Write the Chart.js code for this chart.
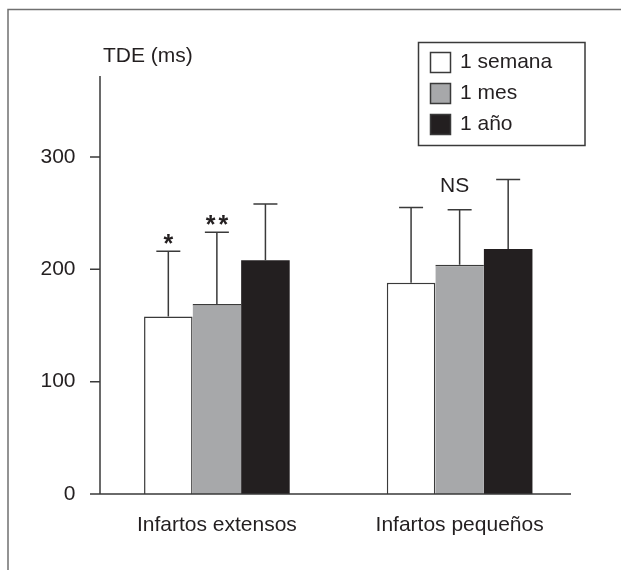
<!DOCTYPE html>
<html lang="es">
<head>
<meta charset="utf-8">
<title>TDE (ms)</title>
<script src="https://cdn.jsdelivr.net/npm/chart.js@4/dist/chart.umd.min.js"></script>
<style>
  html, body { margin: 0; padding: 0; background: #fff; }
  canvas { display: block; }
</style>
</head>
<body>
<canvas id="grafico" width="621" height="570"></canvas>
<script>
// datos
const categorias = ["Infartos extensos", "Infartos pequeños"];
const series = ["1 semana", "1 mes", "1 año"];
const mediaSemana = [158, 188];
const mediaMes = [169, 204];
const mediaAno = [208, 218];
const desvioSemana = [58, 67];
const desvioMes = [64, 49];
const desvioAno = [50, 62];
const marcasSemana = ["*", ""];
const marcasMes = ["**", "NS"];
const marcasAno = ["", ""];
const ticksY = [0, 100, 200, 300];

const FUENTE = '"Liberation Sans", Arial, sans-serif';
const TEXTO = "#231f20";
const LINEA = "#3a3a3a";

const desvios = [desvioSemana, desvioMes, desvioAno];
const marcas = [marcasSemana, marcasMes, marcasAno];

const marco = {
    id: "marco",
    beforeDraw(chart) {
        const ctx = chart.ctx;
        ctx.save();
        ctx.strokeStyle = "#707070";
        ctx.lineWidth = 1.5;
        ctx.beginPath();
        ctx.moveTo(8, chart.height);
        ctx.lineTo(8, 9.5);
        ctx.lineTo(chart.width, 9.5);
        ctx.stroke();
        ctx.restore();
    }
};

const ejes = {
    id: "ejes",
    afterDatasetsDraw(chart) {
        const ctx = chart.ctx;
        const area = chart.chartArea;
        const y = chart.scales.y;
        const x0 = area.left + 4.5;
        ctx.save();
        ctx.strokeStyle = LINEA;
        ctx.lineWidth = 1.5;
        ctx.beginPath();
        ctx.moveTo(x0, area.top);
        ctx.lineTo(x0, area.bottom);
        ctx.lineTo(area.right - 10, area.bottom);
        ticksY.forEach(v => {
            const py = y.getPixelForValue(v);
            ctx.moveTo(x0 - 10, py);
            ctx.lineTo(x0, py);
        });
        ctx.stroke();

        ctx.fillStyle = TEXTO;
        ctx.font = "21px " + FUENTE;
        ctx.textAlign = "left";
        ctx.textBaseline = "alphabetic";
        ctx.fillText("TDE (ms)", x0 + 3, 62);
        ctx.restore();
    }
};

const barrasError = {
    id: "barrasError",
    afterDatasetsDraw(chart) {
        const ctx = chart.ctx;
        const y = chart.scales.y;
        ctx.save();
        ctx.strokeStyle = LINEA;
        ctx.lineWidth = 1.5;
        ctx.fillStyle = TEXTO;
        ctx.textAlign = "center";
        ctx.textBaseline = "alphabetic";
        chart.data.datasets.forEach((ds, i) => {
            const meta = chart.getDatasetMeta(i);
            meta.data.forEach((barra, j) => {
                const topo = y.getPixelForValue(ds.data[j] + desvios[i][j]);
                ctx.beginPath();
                ctx.moveTo(barra.x, barra.y);
                ctx.lineTo(barra.x, topo);
                ctx.moveTo(barra.x - 12, topo);
                ctx.lineTo(barra.x + 12, topo);
                ctx.stroke();

                const m = marcas[i][j];
                if (m === "NS") {
                    ctx.font = "21px " + FUENTE;
                    ctx.letterSpacing = "0px";
                    ctx.fillText(m, barra.x - 5, topo - 18);
                } else if (m) {
                    ctx.font = "bold 25px " + FUENTE;
                    ctx.letterSpacing = "3px";
                    ctx.fillText(m, barra.x + 1.5, topo + 1);
                }
            });
        });
        ctx.restore();
    }
};

const leyenda = {
    id: "leyenda",
    afterDraw(chart) {
        const ctx = chart.ctx;
        ctx.save();
        ctx.strokeStyle = LINEA;
        ctx.lineWidth = 1.5;
        ctx.strokeRect(418.5, 42.5, 166.5, 103);
        ctx.font = "21px " + FUENTE;
        ctx.textBaseline = "middle";
        ctx.textAlign = "left";
        chart.data.datasets.forEach((ds, i) => {
            const top = 52 + i * 31;
            ctx.fillStyle = ds.backgroundColor;
            ctx.fillRect(430, top, 21, 21);
            ctx.strokeRect(430.5, top + 0.5, 20, 20);
            ctx.fillStyle = TEXTO;
            ctx.fillText(ds.label, 460, top + 10.5);
        });
        ctx.restore();
    }
};

const ctx = document.getElementById("grafico").getContext("2d");

new Chart(ctx, {
    type: "bar",
    data: {
        labels: categorias,
        datasets: [
            {
                label: series[0],
                data: mediaSemana,
                backgroundColor: "#ffffff",
                borderColor: LINEA,
                borderWidth: { top: 1.5, left: 1.5, right: 1.5, bottom: 0 }
            },
            {
                label: series[1],
                data: mediaMes,
                backgroundColor: "#a7a8aa",
                borderColor: LINEA,
                borderWidth: { top: 1.5, left: 0, right: 0, bottom: 0 }
            },
            {
                label: series[2],
                data: mediaAno,
                backgroundColor: "#231f20",
                borderColor: "#231f20",
                borderWidth: 0
            }
        ]
    },
    options: {
        responsive: false,
        animation: false,
        categoryPercentage: 0.6,
        barPercentage: 1.0,
        layout: { padding: { top: 76, right: 40, left: 0, bottom: 0 } },
        plugins: {
            legend: { display: false },
            tooltip: { enabled: false }
        },
        scales: {
            x: {
                grid: { display: false },
                border: { display: false },
                ticks: {
                    color: TEXTO,
                    font: { family: FUENTE, size: 21 },
                    padding: 11
                },
                afterFit(scale) { scale.height = 76; }
            },
            y: {
                min: 0,
                max: 372,
                grid: { display: false },
                border: { display: false },
                afterBuildTicks(scale) {
                    scale.ticks = ticksY.map(v => ({ value: v }));
                },
                ticks: {
                    color: TEXTO,
                    font: { family: FUENTE, size: 21 },
                    padding: 12
                },
                afterFit(scale) { scale.width = 95.5; }
            }
        }
    },
    plugins: [marco, ejes, barrasError, leyenda]
});
</script>
</body>
</html>
